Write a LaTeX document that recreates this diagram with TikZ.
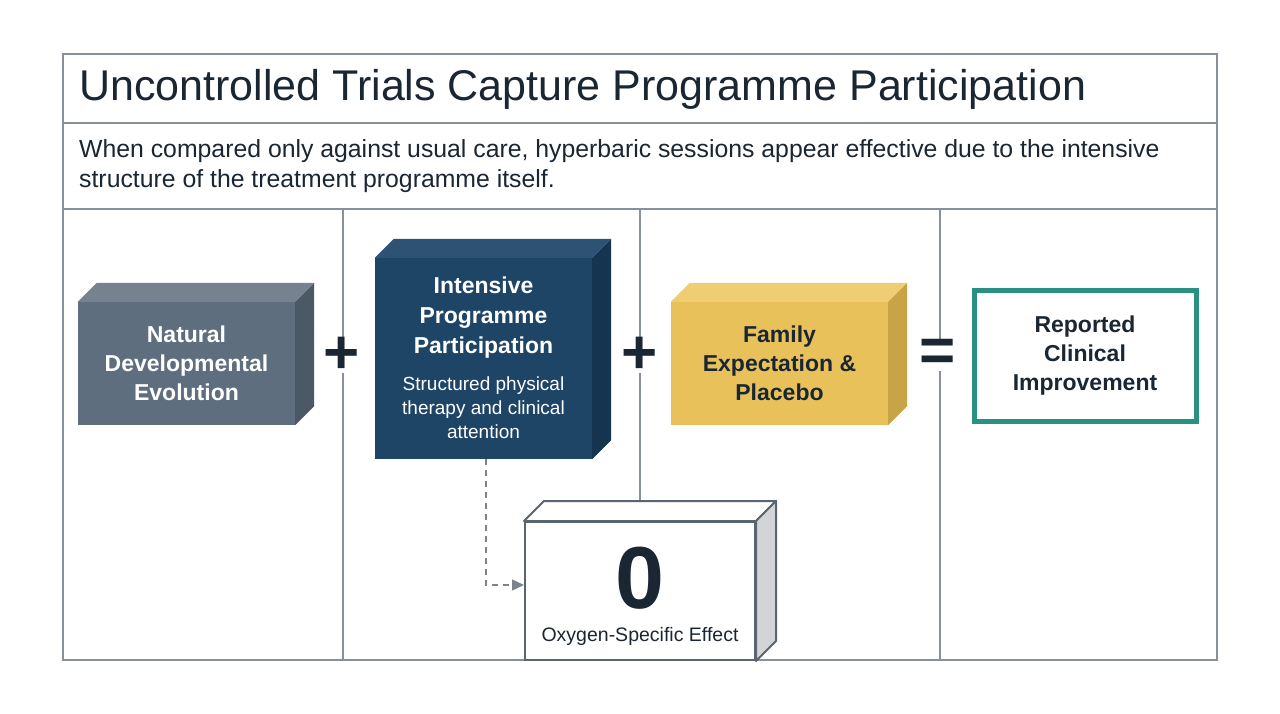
\documentclass[tikz,border=0pt]{standalone}
\usepackage{fontspec}
\setmainfont{Liberation Sans}
\usetikzlibrary{arrows.meta}
\definecolor{grid}{HTML}{8A9099}
\definecolor{ink}{HTML}{1B2633}
\definecolor{natF}{HTML}{5F6E7E}\definecolor{natT}{HTML}{76838F}\definecolor{natS}{HTML}{4B5866}
\definecolor{intF}{HTML}{1E4466}\definecolor{intT}{HTML}{2D5274}\definecolor{intS}{HTML}{15344F}
\definecolor{yelF}{HTML}{E8C15A}\definecolor{yelT}{HTML}{EFCD72}\definecolor{yelS}{HTML}{C9A446}
\definecolor{zerS}{HTML}{D2D4D7}\definecolor{zerL}{HTML}{5A6570}
\definecolor{teal}{HTML}{2A9080}
\tikzset{
  front/.style={draw=none,inner sep=4pt,align=center,font=\bfseries\fontsize{23}{29}\selectfont},
  op/.style={font=\bfseries\fontsize{62}{62}\selectfont,text=ink,inner sep=0pt,fill=white},
  gridline/.style={draw=grid,line width=1.3pt}
}
\newcommand\extr[4]{% node, depth, top colour, side colour
  \fill[#3] (#1.north west) -- ++(#2,-#2) -- ([shift={(#2,-#2)}]#1.north east) -- (#1.north east) -- cycle;
  \fill[#4] (#1.north east) -- ++(#2,-#2) -- ([shift={(#2,-#2)}]#1.south east) -- (#1.south east) -- cycle;}
\begin{document}
\begin{tikzpicture}[x=1pt,y=-1pt]
\useasboundingbox (0,0) rectangle (1280,714);
\fill[white] (0,0) rectangle (1280,714);
% frame
\draw[gridline] (63,54) rectangle (1217,660);
\draw[gridline] (63,123) -- (1217,123);
\draw[gridline] (63,209) -- (1217,209);
\draw[gridline] (343,209) -- (343,660);
\draw[gridline] (640,209) -- (640,502);
\draw[gridline] (940,209) -- (940,660);
\node[anchor=west,inner sep=0,text=ink,font=\fontsize{43}{45}\selectfont] (title) at (79,89) {Uncontrolled Trials Capture Programme Participation};
\node[anchor=north west,inner sep=0,text=ink,align=left,font=\fontsize{24.8}{30}\selectfont] (sub) at (79,139) {When compared only against usual care, hyperbaric sessions appear effective due to the intensive\\structure of the treatment programme itself.};
% boxes
\node[front,fill=natF,text=white,minimum width=217,minimum height=123] (nat) at (186.5,363.5) {Natural\\Developmental\\Evolution};
\extr{nat}{19}{natT}{natS}
\node[front,fill=intF,text=white,minimum width=217,minimum height=201] (int) at (483.5,358.5) {};
\node[align=center,text=white,font=\bfseries\fontsize{23}{30}\selectfont] at (483.5,318) {Intensive\\Programme\\Participation};
\node[align=center,text=white,font=\fontsize{19}{24}\selectfont] at (483.5,408) {Structured physical\\therapy and clinical\\attention};
\extr{int}{19}{intT}{intS}
\node[front,fill=yelF,text=ink,minimum width=217,minimum height=123] (yel) at (779.5,363.5) {Family\\Expectation \&\\Placebo};
\extr{yel}{19}{yelT}{yelS}
\node[draw=zerL,line width=2pt,fill=white,minimum width=230,minimum height=138,inner sep=0] (zer) at (640,591) {};
\filldraw[draw=zerL,line width=2pt,fill=white,line join=round] (zer.north west) -- ++(20,-20) -- ([shift={(20,-20)}]zer.north east) -- (zer.north east) -- cycle;
\filldraw[draw=zerL,line width=2pt,fill=zerS,line join=round] (zer.north east) -- ++(20,-20) -- ([shift={(20,-20)}]zer.south east) -- (zer.south east) -- cycle;
\node[text=ink,font=\bfseries\fontsize{88}{88}\selectfont] at (640,578) {0};
\node[text=ink,font=\fontsize{19.5}{22}\selectfont] at (640,636) {Oxygen-Specific Effect};
\node[front,draw=teal,line width=5pt,fill=white,text=ink,minimum width=222,minimum height=131] (res) at (1085,355.5) {Reported\\Clinical\\Improvement};
% operators
\node[op] (p1) at (342,355) {+};
\node[op] (p2) at (640,355) {+};
\node[op] (eq) at (938,355) {=};
% dashed arrow
\draw[draw=zerL!80,line width=1.5pt,dash pattern=on 6pt off 5pt,-{Triangle[length=12pt,width=11pt]}] (486,459) |- (zer.west |- 0,585);
\end{tikzpicture}
\end{document}
